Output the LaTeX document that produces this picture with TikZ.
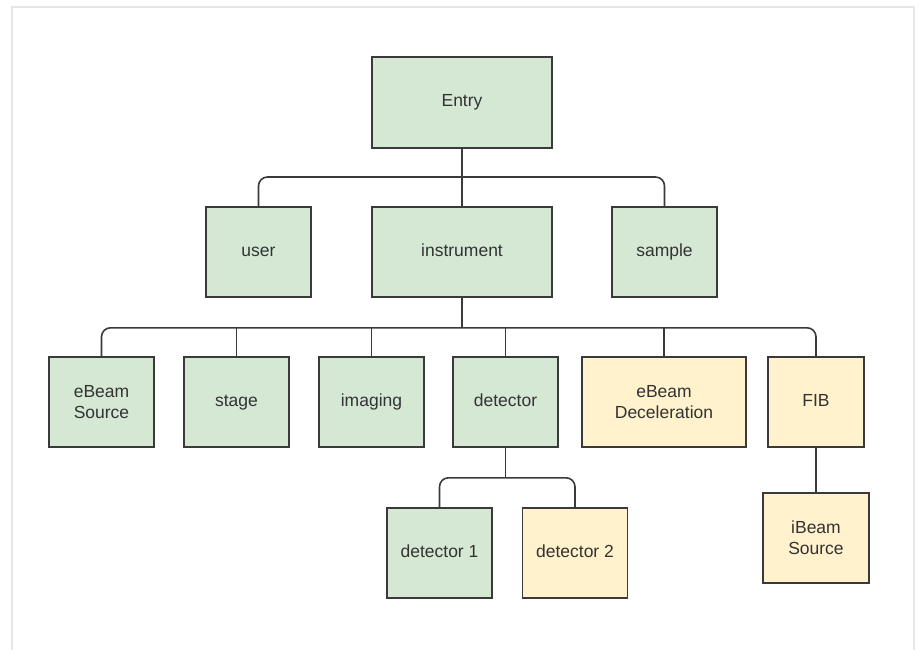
\documentclass[tikz,border=0pt]{standalone}
\usepackage{fontspec}
\setmainfont{Liberation Sans}
\definecolor{gfill}{HTML}{D5E8D4}
\definecolor{yfill}{HTML}{FFF2CC}
\definecolor{linec}{HTML}{3A3A3A}
\definecolor{framec}{HTML}{E6E6E6}
\definecolor{txtc}{HTML}{333333}
\begin{document}
\begin{tikzpicture}[x=1pt,y=-1pt,
  box/.style={draw=linec, line width=1.6pt, inner sep=0pt, align=center,
    minimum width=105pt, minimum height=90pt, text=txtc,
    font=\fontsize{17.5}{21}\selectfont},
  one/.style={text height=12.5pt, text depth=3.5pt},
  gbox/.style={box, fill=gfill},
  ybox/.style={box, fill=yfill},
  conn/.style={draw=linec, line width=1.6pt},
  rconn/.style={conn, rounded corners=9pt}]
\useasboundingbox (0,0) rectangle (921,650);
\draw[framec, line width=2pt] (12,650) -- (12,7) -- (914,7) -- (914,650);

\node[gbox, one, minimum width=180pt, minimum height=91pt] (entry) at (462,102.5) {Entry};
\node[gbox, one] (user) at (258.5,252) {user};
\node[gbox, one, minimum width=180pt] (instr) at (462,252) {instrument};
\node[gbox, one] (sample) at (664.5,252) {sample};

\node[gbox] (ebs) at (101.5,402) {eBeam\\Source};
\node[gbox, one] (stage) at (236.5,402) {stage};
\node[gbox, one] (imaging) at (371.5,402) {imaging};
\node[gbox, one] (det) at (505.5,402) {detector};
\node[ybox, minimum width=164pt] (edec) at (664,402) {eBeam\\Deceleration};
\node[ybox, one, minimum width=96pt] (fib) at (816,402) {FIB};

\node[gbox, one] (det1) at (439.5,553) {detector 1};
\node[ybox, one] (det2) at (575,553) {detector 2};
\node[ybox, minimum width=106pt] (ibeam) at (816,538) {iBeam\\Source};

% Entry children
\draw[conn] (entry.south) -- (instr.north);
\coordinate (eb) at (462,177);
\draw[rconn] (user.north) |- (eb);
\draw[rconn] (sample.north) |- (eb);

% instrument children
\draw[conn] (instr.south) -- ++(0,30) coordinate (ib);
\draw[rconn] (ebs.north) |- (ib);
\draw[rconn] (fib.north) |- (ib);
\draw[conn] (stage.north) -- (stage.north |- ib);
\draw[conn] (imaging.north) -- (imaging.north |- ib);
\draw[conn] (det.north) -- (det.north |- ib);
\draw[conn] (edec.north) -- (edec.north |- ib);

% detector children
\draw[conn] (det.south) -- ++(0,30) coordinate (db);
\draw[rconn] (det1.north) |- (db);
\draw[rconn] (det2.north) |- (db);

% FIB child
\draw[conn] (fib.south) -- (ibeam.north);
\end{tikzpicture}
\end{document}
